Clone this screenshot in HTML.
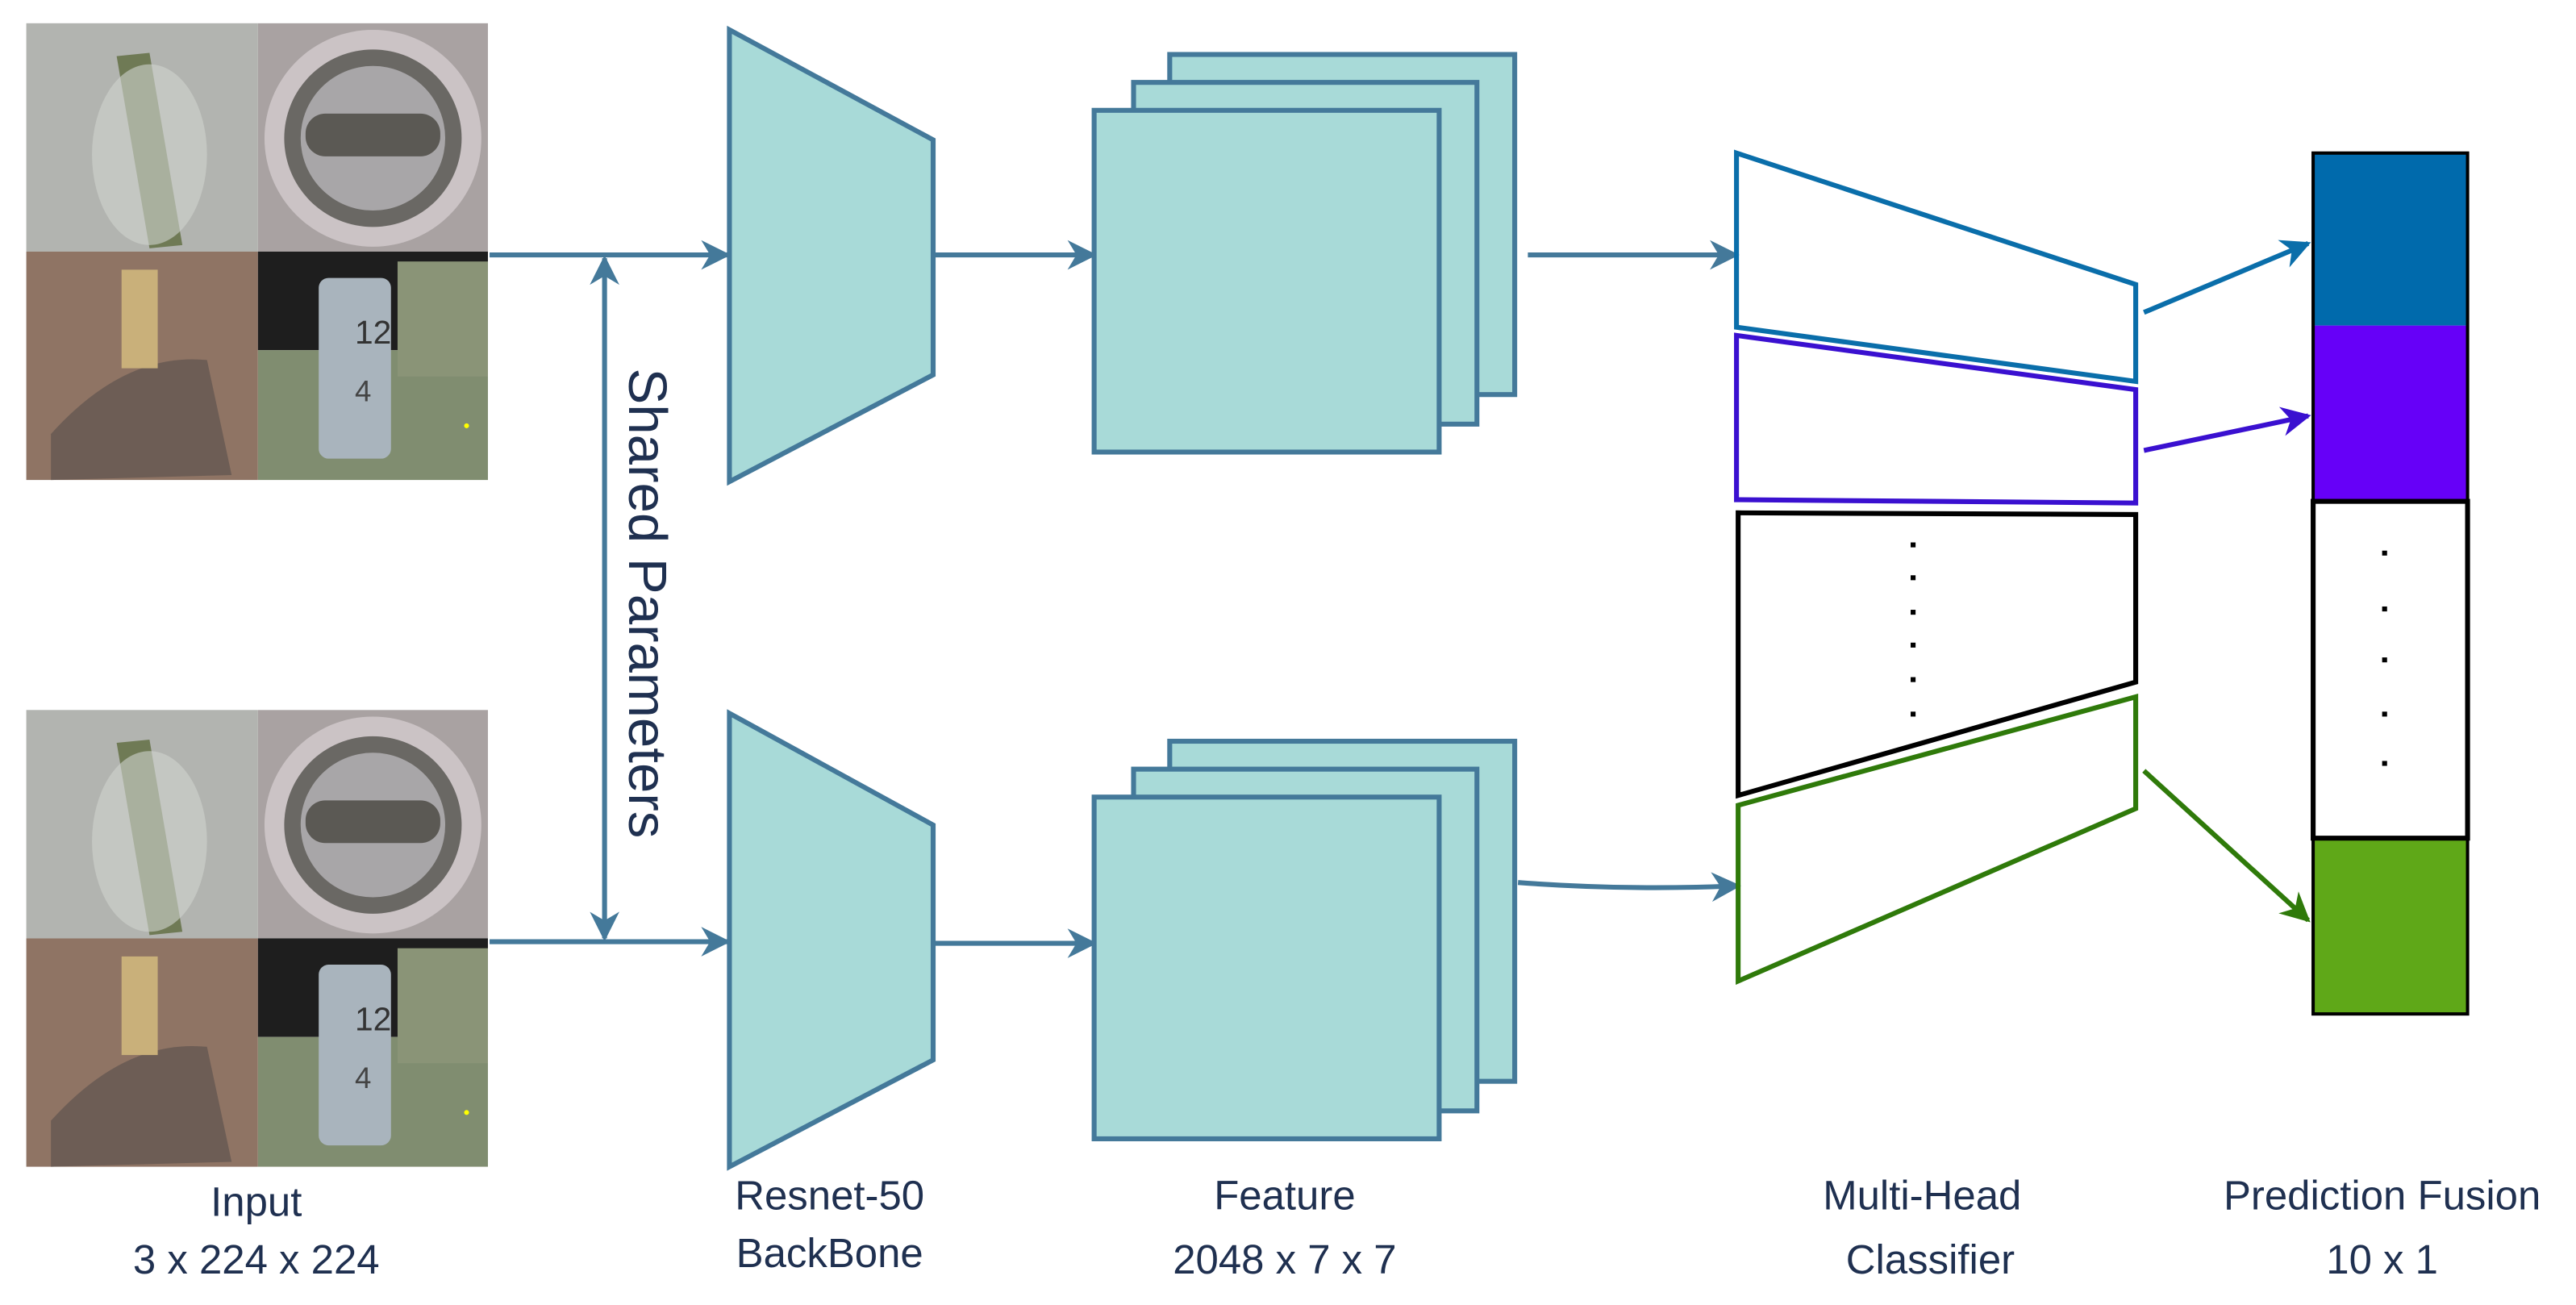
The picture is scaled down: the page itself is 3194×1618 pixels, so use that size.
<!DOCTYPE html>
<html><head><meta charset="utf-8"><style>
html,body{margin:0;padding:0;background:#fff;}
svg{display:block}
text{font-family:"Liberation Sans",sans-serif;fill:#1f3050;}
</style></head><body>
<svg width="3194" height="1618" viewBox="0 0 1568 794" xmlns="http://www.w3.org/2000/svg">
<defs>
<marker id="a" viewBox="0 0 10 10" refX="9" refY="5" markerWidth="20" markerHeight="18" orient="auto-start-reverse" markerUnits="userSpaceOnUse"><path d="M0,0 L10,5 L0,10 L3,5z" fill="#44799a"/></marker>
<marker id="ab" viewBox="0 0 10 10" refX="9" refY="5" markerWidth="20" markerHeight="18" orient="auto" markerUnits="userSpaceOnUse"><path d="M0,0 L10,5 L0,10 L3,5z" fill="#0a6eaa"/></marker>
<marker id="ap" viewBox="0 0 10 10" refX="9" refY="5" markerWidth="20" markerHeight="18" orient="auto" markerUnits="userSpaceOnUse"><path d="M0,0 L10,5 L0,10 L3,5z" fill="#3a10d0"/></marker>
<marker id="ag" viewBox="0 0 10 10" refX="9" refY="5" markerWidth="20" markerHeight="18" orient="auto" markerUnits="userSpaceOnUse"><path d="M0,0 L10,5 L0,10 L3,5z" fill="#2f7a0a"/></marker>
<g id="img">
<rect x="0" y="0" width="141" height="139" fill="#b2b4b0"/>
<path d="M55,20 L75,18 L95,135 L75,137z" fill="#6f7a55"/>
<ellipse cx="75" cy="80" rx="35" ry="55" fill="#d0d3ce" opacity="0.6"/>
<rect x="141" y="0" width="140" height="139" fill="#a9a2a2"/>
<circle cx="211" cy="70" r="66" fill="#cbc3c5"/>
<circle cx="211" cy="70" r="54" fill="#6a6864"/>
<circle cx="211" cy="70" r="44" fill="#a8a6a8"/>
<rect x="170" y="55" width="82" height="26" rx="12" fill="#5b5954"/>
<rect x="0" y="139" width="141" height="139" fill="#8f7464"/>
<path d="M15,250 Q60,200 110,205 L125,275 L15,278z" fill="#6d5d55"/>
<rect x="58" y="150" width="22" height="60" fill="#c9b07a"/>
<rect x="141" y="139" width="140" height="60" fill="#1e1e1e"/>
<rect x="141" y="199" width="140" height="79" fill="#808d70"/>
<rect x="226" y="145" width="55" height="70" fill="#8a9477"/>
<rect x="178" y="155" width="44" height="110" rx="6" fill="#a9b4bd"/>
<text x="200" y="195" font-size="20" style="fill:#333">12</text>
<text x="200" y="230" font-size="18" style="fill:#444">4</text>
<circle cx="268" cy="245" r="1.5" fill="#ff0"/>
</g>
</defs>

<use href="#img" x="16" y="14"/>
<use href="#img" x="16" y="432"/>

<g stroke="#44799a" stroke-width="3" fill="none">
<line x1="298" y1="155" x2="443" y2="155" marker-end="url(#a)"/>
<line x1="298" y1="573" x2="443" y2="573" marker-end="url(#a)"/>
<line x1="368" y1="157" x2="368" y2="571" marker-end="url(#a)" marker-start="url(#a)"/>
<line x1="568" y1="155" x2="666" y2="155" marker-end="url(#a)"/>
<line x1="568" y1="574" x2="666" y2="574" marker-end="url(#a)"/>
<line x1="930" y1="155" x2="1057" y2="155" marker-end="url(#a)"/>
<path d="M924,537 Q990,542 1058,539" marker-end="url(#a)"/>
</g>
<g stroke="#44799a" stroke-width="3" fill="#a8dad8">
<polygon points="444,18 568,85 568,228 444,293"/>
<polygon points="444,434 568,502 568,645 444,710"/>
<rect x="712" y="33" width="210" height="207"/>
<rect x="690" y="50" width="209" height="208"/>
<rect x="666" y="67" width="210" height="208"/>
<rect x="712" y="451" width="210" height="207"/>
<rect x="690" y="468" width="209" height="208"/>
<rect x="666" y="485" width="210" height="208"/>
</g>
<text transform="translate(383,367) rotate(90)" font-size="33" text-anchor="middle">Shared Parameters</text>

<g fill="none" stroke-width="3">
<polygon points="1057,93 1300,173 1300,232 1057,199" stroke="#0a6eaa"/>
<polygon points="1057,204 1300,237 1300,306 1057,304" stroke="#3a10d0"/>
<polygon points="1058,312 1300,313 1300,415 1058,484" stroke="#000"/>
<polygon points="1058,490 1300,424 1300,492 1058,597" stroke="#2f7a0a"/>
<line x1="1305" y1="190" x2="1405" y2="148" stroke="#0a6eaa" marker-end="url(#ab)"/>
<line x1="1305" y1="274" x2="1405" y2="253" stroke="#3a10d0" marker-end="url(#ap)"/>
<line x1="1305" y1="469" x2="1405" y2="560" stroke="#2f7a0a" marker-end="url(#ag)"/>
</g>
<g fill="#000">
<rect x="1163" y="330" width="3" height="3"/><rect x="1163" y="350" width="3" height="3"/><rect x="1163" y="371" width="3" height="3"/><rect x="1163" y="391" width="3" height="3"/><rect x="1163" y="412" width="3" height="3"/><rect x="1163" y="433" width="3" height="3"/>
</g>
<rect x="1408" y="93" width="94" height="105" fill="#006aac"/>
<rect x="1408" y="198" width="94" height="107" fill="#6600f8"/>
<rect x="1408" y="510" width="94" height="107" fill="#5fa818"/>
<rect x="1408" y="93" width="94" height="524" fill="none" stroke="#000" stroke-width="2"/>
<rect x="1408" y="305" width="94" height="205" fill="#fff" stroke="#000" stroke-width="3"/>
<g fill="#000">
<rect x="1450" y="335" width="3" height="3"/><rect x="1450" y="369" width="3" height="3"/><rect x="1450" y="400" width="3" height="3"/><rect x="1450" y="433" width="3" height="3"/><rect x="1450" y="463" width="3" height="3"/>
</g>

<g font-size="25" text-anchor="middle">
<text x="156" y="740">Input</text>
<text x="156" y="775">3 x 224 x 224</text>
<text x="505" y="736">Resnet-50</text>
<text x="505" y="771">BackBone</text>
<text x="782" y="736">Feature</text>
<text x="782" y="775">2048 x 7 x 7</text>
<text x="1170" y="736">Multi-Head</text>
<text x="1175" y="775">Classifier</text>
<text x="1450" y="736">Prediction Fusion</text>
<text x="1450" y="775">10 x 1</text>
</g>
</svg>
</body></html>
